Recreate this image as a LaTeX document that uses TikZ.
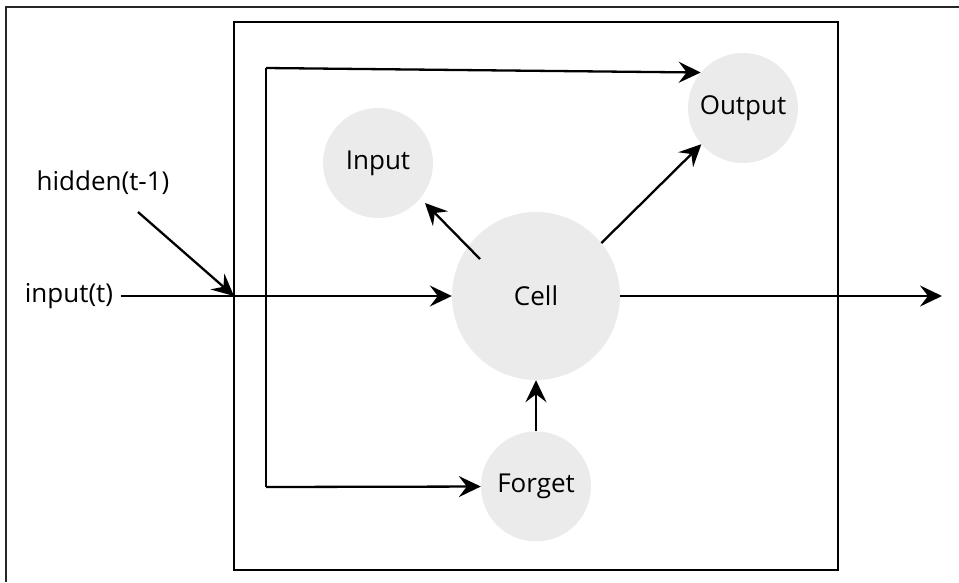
\documentclass[tikz,border=0pt]{standalone}
\usepackage{fontspec}
\setmainfont{Open Sans}
\usepackage{xcolor}
\usetikzlibrary{arrows.meta, positioning}
\definecolor{gatefill}{HTML}{EBEBEB}

\begin{document}
\begin{tikzpicture}[x=1pt, y=-1pt,
	gate/.style={circle, fill=gatefill, minimum size=110pt, inner sep=0pt,
		font=\fontsize{26}{31}\selectfont},
	lbl/.style={font=\fontsize{26}{31}\selectfont},
	arr/.style={-{Stealth[length=22pt, width=21pt, inset=8pt]}, line width=2.3pt}]
	\useasboundingbox (0,0) rectangle (959,582);
	% Frame
	\draw[line width=1.2pt, black!85] (6,582) -- (6,7) -- (959,7);
	% Unit box
	\draw[line width=2.3pt] (234,22) rectangle (838,570);
	% Cell block
	\node[gate,
	minimum size=168pt] (cell) at (536,296) {Cell};
	% Gate blocks
	\node[gate,
	below=51pt of cell] (forget) {Forget};
	\node[gate] (input) at (378,163) {Input};
	\node[gate] (output) at (743,108) {Output};
	% Labels
	\node[lbl] (xin) at (69,296) {input(t)};
	\node[lbl] (hid) at (103,183) {hidden(t-1)};
	% Points
	\coordinate (hstart) at (138,212);
	\coordinate (join) at (234,296);
	\coordinate (tl) at (266,68);
	\coordinate (bl) at (266,487);
	\coordinate (cout) at (942,296);
	% Arrows
	\draw[arr, shorten <=4pt] (xin) -- (cell);
	\draw[arr] (hstart) -- (join);
	\draw[line width=2.3pt] (tl) -- (bl);
	\draw[arr] (tl) -- (output.140);
	\draw[arr] (bl) -- (forget);
	\draw[arr] (forget) -- (cell);
	\draw[arr] ([shift={(-56,-37)}]cell.center) -- ([shift={(47,40)}]input.center);
	\draw[arr] (cell.39) -- (output.221);
	\draw[arr] (cell) -- (cout);
\end{tikzpicture}
\end{document}
